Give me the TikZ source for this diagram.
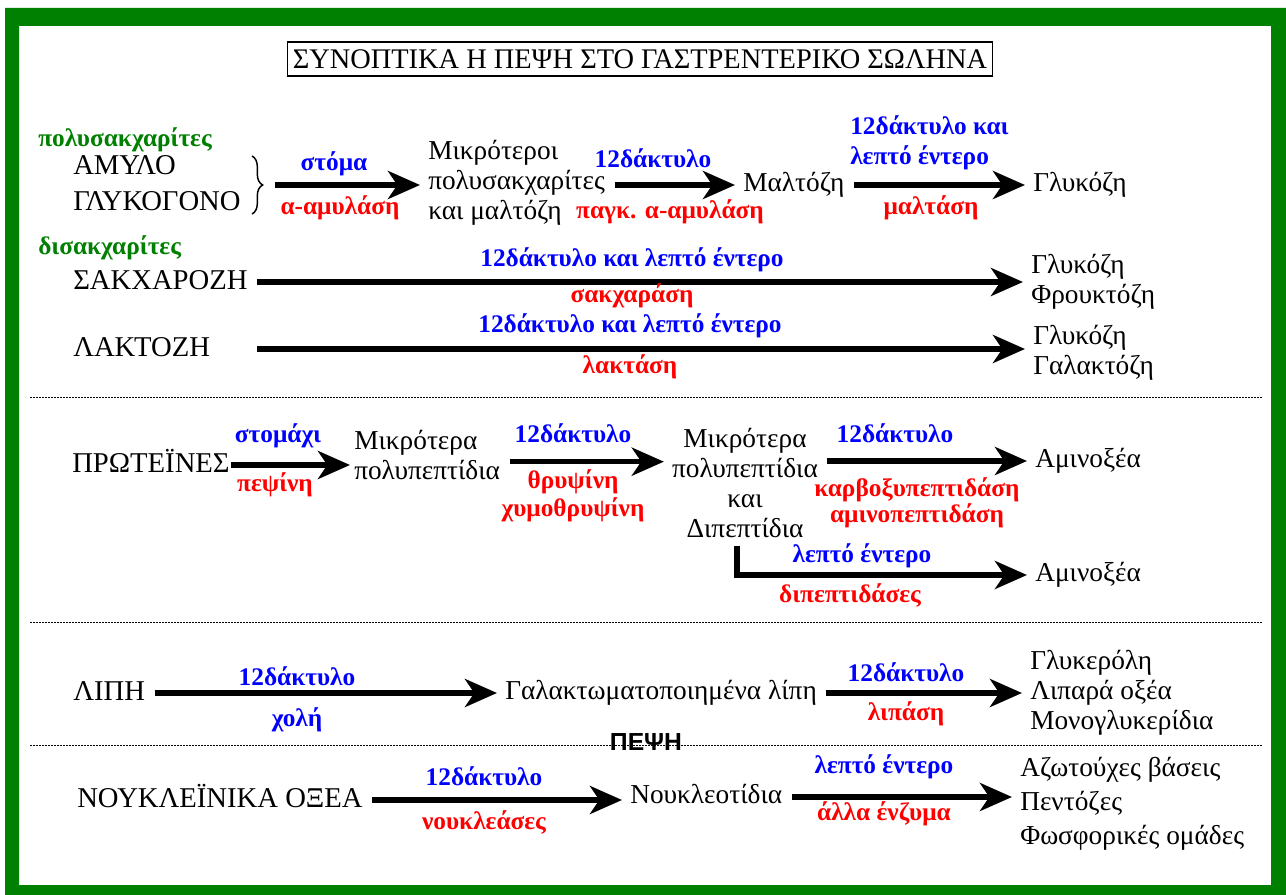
\documentclass[tikz,border=0pt]{standalone}
\usepackage{fontspec}
\setmainfont{Liberation Serif}
\setsansfont{Liberation Sans}
\usetikzlibrary{arrows.meta,calc,positioning,decorations.pathreplacing}
\definecolor{framegreen}{RGB}{0,128,0}
\definecolor{catgreen}{RGB}{0,128,0}
\definecolor{siteblue}{RGB}{0,0,255}
\definecolor{enzred}{RGB}{255,0,0}
\tikzstyle{heading} = [draw,line width=1pt,font=\fontsize{21.3}{24}\selectfont,inner xsep=4pt,inner ysep=0pt,minimum height=25.5pt]
\tikzstyle{caps} = [font=\fontsize{21.5}{24}\selectfont,inner sep=0pt,text height=14.5pt,text depth=4pt]
\tikzstyle{subst} = [font=\fontsize{20.5}{22.5}\selectfont,inner sep=0pt,text height=14pt,text depth=4pt]
\tikzstyle{substm} = [font=\fontsize{20.5}{22.5}\selectfont,inner sep=0pt,align=left]
\tikzstyle{site} = [font=\bfseries\fontsize{19}{22.5}\selectfont,text=siteblue,inner sep=0pt]
\tikzstyle{enzyme} = [font=\bfseries\fontsize{19}{21}\selectfont,text=enzred,inner sep=0pt]
\tikzstyle{class} = [font=\bfseries\fontsize{19}{22}\selectfont,text=catgreen,inner sep=0pt]
\tikzstyle{flow} = [line width=4.2pt,-{Stealth[length=24pt,width=21pt,inset=7pt]},shorten <=7pt,shorten >=6pt]
\tikzstyle{divider} = [line width=0.75pt,dash pattern=on 1.5pt off 0.75pt]
\tikzstyle{curly} = [decorate,decoration={brace,amplitude=8pt},line width=1.1pt]

\begin{document}
\begin{tikzpicture}[x=0.75pt,y=-0.75pt]
  \useasboundingbox (0,0) rectangle (1286,895);
  % Frame and title
  \fill[framegreen,even odd rule] (5,8) rectangle (1286,895) (19,26) rectangle (1271,885);
  \node[heading] (title) at (640,59) {ΣΥΝΟΠΤΙΚΑ Η ΠΕΨΗ ΣΤΟ ΓΑΣΤΡΕΝΤΕΡΙΚΟ ΣΩΛΗΝΑ};
  % Polysaccharides
  \node[class,anchor=west] (polysac) at (38,140) {πολυσακχαρίτες};
  \node[caps,anchor=west] (amylo) at (73,168) {ΑΜΥΛΟ};
  \node[caps,anchor=west] (glykogono) at (73,204) {ΓΛΥΚΟΓΟΝΟ};
  \coordinate (brtop) at (252,156);
  \coordinate (brbot) at (252,214);
  \draw[curly] (brtop) -- (brbot);
  \coordinate (brtip) at (266,185);
  \node[substm,anchor=west] (mikr) at (428,183) {Μικρότεροι\\πολυσακχαρίτες\\και μαλτόζη};
  \node[subst,anchor=west] (maltozi) at (743,185) {Μαλτόζη};
  \node[subst,anchor=west] (glyk1) at (1033,185) {Γλυκόζη};
  \draw[flow] (brtip) -- (brtip -| mikr.west);
  \draw[flow] (mikr.east |- maltozi.west) -- (maltozi.west);
  \draw[flow] (maltozi.east) -- (glyk1.west);
  \node[site] (stoma) at (334,164) {στόμα};
  \node[enzyme] (amylasi) at (340,208) {α-αμυλάση};
  \node[site] (dod1) at (653,158) {12δάκτυλο};
  \node[enzyme] (pagk) at (670,212) {παγκ. α-αμυλάση};
  \node[site,align=left,anchor=west] (dodlep1) at (850,143) {12δάκτυλο και\\λεπτό έντερο};
  \node[enzyme] (maltasi) at (931,208) {μαλτάση};
  % Disaccharides
  \node[class,anchor=west] (disac) at (38,248) {δισακχαρίτες};
  \node[caps,anchor=west] (sakx) at (73,282) {ΣΑΚΧΑΡΟΖΗ};
  \node[substm,anchor=west] (glyk2) at (1031,282) {Γλυκόζη\\Φρουκτόζη};
  \draw[flow] (sakx.east) -- (sakx.east -| glyk2.west);
  \node[site] (dodlep2) at (632,260) {12δάκτυλο και λεπτό έντερο};
  \node[enzyme] (sakxarasi) at (632,296) {σακχαράση};
  \node[caps,anchor=west] (lakt) at (73,349) {ΛΑΚΤΟΖΗ};
  \node[substm,anchor=west] (glyk3) at (1033,353) {Γλυκόζη\\Γαλακτόζη};
  \draw[flow] (lakt.east -| sakx.east) -- (lakt.east -| glyk3.west);
  \node[site] (dodlep3) at (630,326) {12δάκτυλο και λεπτό έντερο};
  \node[enzyme] (laktasi) at (630,367) {λακτάση};
  \draw[divider] (30,397) -- (1262,397);
  % Proteins
  \node[caps,anchor=west] (prot) at (72,465) {ΠΡΩΤΕΪΝΕΣ};
  \node[substm,anchor=west] (poly1) at (354,455) {Μικρότερα\\πολυπεπτίδια};
  \node[substm,align=center] (poly2) at (745,483) {Μικρότερα\\πολυπεπτίδια\\και\\Διπεπτίδια};
  \node[subst,anchor=west] (amino1) at (1035,461) {Αμινοξέα};
  \node[subst,anchor=west] (amino2) at (1035,575) {Αμινοξέα};
  \draw[flow,shorten <=1pt,shorten >=3pt] (prot.east) -- (prot.east -| poly1.west);
  \draw[flow] ([yshift=-5pt]poly1.east) -- ([yshift=-5pt]poly1.east -| poly2.west);
  \draw[flow] (amino1.west -| poly2.east) -- (amino1.west);
  \coordinate (branch) at ($(poly2.south)+(-8,8)$);
  \draw[flow,shorten <=0pt] (branch) |- (amino2.west);
  \node[site] (stomaxi) at (278,436) {στομάχι};
  \node[enzyme] (pepsini) at (275,485) {πεψίνη};
  \node[site] (dod2) at (573,433) {12δάκτυλο};
  \node[enzyme,align=center] (thrypsini) at (573,496) {θρυψίνη\\χυμοθρυψίνη};
  \node[site] (dod3) at (895,433) {12δάκτυλο};
  \node[enzyme,align=center,font=\bfseries\fontsize{19}{17.5}\selectfont] (peptidasi) at (917,503) {καρβοξυπεπτιδάση\\αμινοπεπτιδάση};
  \node[site] (lepto1) at (862,556) {λεπτό έντερο};
  \node[enzyme] (dipept) at (850,595) {διπεπτιδάσες};
  \draw[divider] (30,622) -- (1262,622);
  % Lipids
  \node[caps,anchor=west] (lipi) at (73,693) {ΛΙΠΗ};
  \node[subst,anchor=west] (galakt) at (505,693) {Γαλακτωματοποιημένα λίπη};
  \node[substm,anchor=west] (prod5) at (1030,693) {Γλυκερόλη\\Λιπαρά οξέα\\Μονογλυκερίδια};
  \draw[flow] (lipi.east) -- (galakt.west);
  \draw[flow] (galakt.east) -- (galakt.east -| prod5.west);
  \node[site] (dod4) at (297,676) {12δάκτυλο};
  \node[site] (choli) at (297,720) {χολή};
  \node[site] (dod5) at (906,672) {12δάκτυλο};
  \node[enzyme] (lipasi) at (906,714) {λιπάση};
  \draw[divider] (30,745) -- (1262,745);
  \node[font=\sffamily\bfseries\fontsize{18.5}{22}\selectfont,inner sep=0pt] (pepsi) at (646,742) {ΠΕΨΗ};
  % Nucleic acids
  \node[caps,anchor=west] (nouk) at (77,800) {ΝΟΥΚΛΕΪΝΙΚΑ ΟΞΕΑ};
  \node[subst,anchor=west] (nukleot) at (630,797) {Νουκλεοτίδια};
  \node[substm,anchor=west,font=\fontsize{20.5}{25.5}\selectfont] (prod6) at (1020,804) {Αζωτούχες βάσεις\\Πεντόζες\\Φωσφορικές ομάδες};
  \draw[flow] (nouk.east) -- (nouk.east -| nukleot.west);
  \draw[flow] (nukleot.east) -- (nukleot.east -| prod6.west);
  \node[site] (dod6) at (484,776) {12δάκτυλο};
  \node[enzyme] (noukleasi) at (484,822) {νουκλεάσες};
  \node[site] (lepto2) at (884,767) {λεπτό έντερο};
  \node[enzyme] (alla) at (884,814) {άλλα ένζυμα};
\end{tikzpicture}
\end{document}
